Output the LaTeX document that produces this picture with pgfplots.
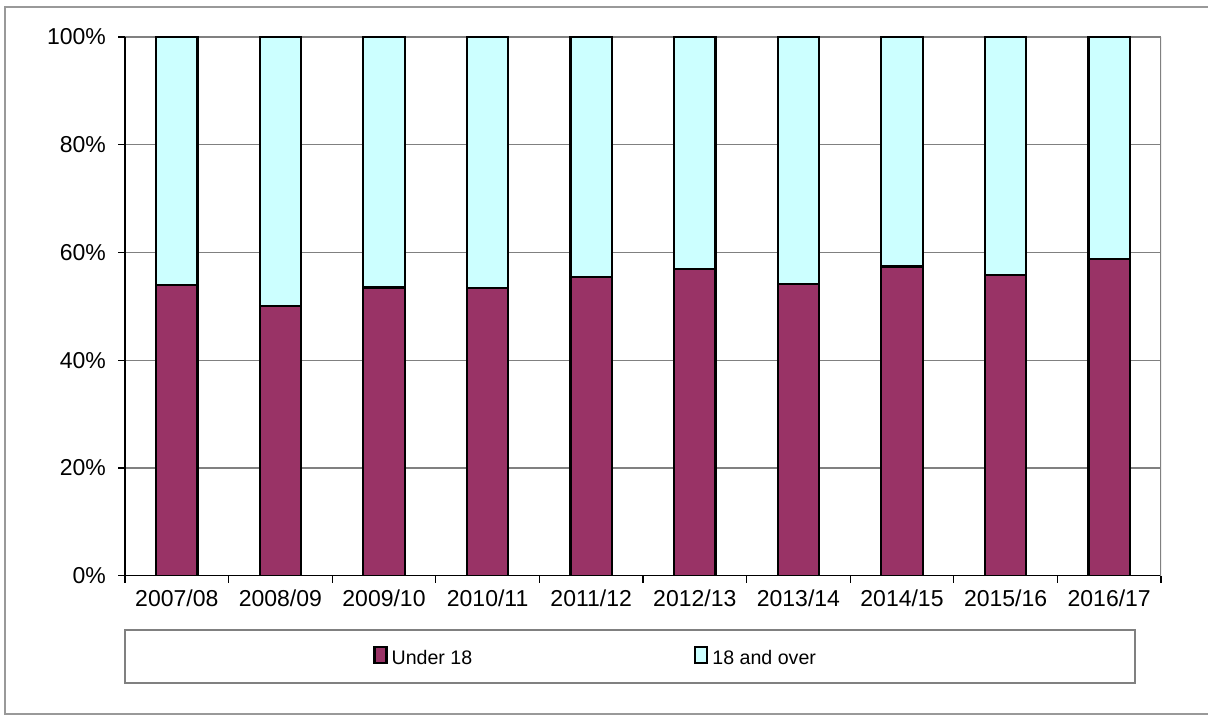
\documentclass[border=0pt]{standalone}
\usepackage{pgfplots}
\pgfplotsset{compat=1.18}
\usepackage{fontspec}
\setmainfont{Liberation Sans}
\definecolor{under}{HTML}{993366}
\definecolor{over}{HTML}{CCFFFF}
\pgfplotsset{
  ybar legend/.style={legend image code/.code={\draw[##1, line width=1pt] (0pt,-2.75pt) rectangle (5.5pt,2.75pt);}},
}
\begin{document}
\begin{tikzpicture}
\useasboundingbox (0pt,0pt) rectangle (604pt,357.5pt);
\draw[gray!80, line width=0.6pt] (2.5pt,0.5pt) rectangle (608pt,354pt);
\draw[gray, line width=0.6pt] (62.5pt,16pt) rectangle (567.5pt,42.5pt);
\begin{axis}[
  at={(62.5pt,69.65pt)}, anchor=south west,
  width=518pt, height=269.35pt, scale only axis,
  ybar stacked, bar width=0.4,
  xmin=-0.5, xmax=9.5, ymin=0, ymax=100,
  xtick={-0.5,0.5,...,9.5}, x tick label as interval,
  xticklabels={2007/08,2008/09,2009/10,2010/11,2011/12,2012/13,2013/14,2014/15,2015/16,2016/17},
  ytick={0,20,...,100},
  yticklabel={\pgfmathprintnumber{\tick}\%},
  /pgf/number format/assume math mode=true,
  ymajorgrids, major grid style={gray, line width=0.6pt},
  axis x line*=bottom, axis y line*=left,
  axis line style={black, line width=0.6pt},
  tick align=outside, major tick length=3.5pt,
  tick style={black, line width=0.6pt},
  tick label style={font=\fontsize{11.5}{13}\selectfont},
  yticklabel style={xshift=-2.5pt},
  legend columns=2,
  legend style={at={(rel axis cs:0.2394,-0.1509)}, anchor=west, draw=none, fill=none,
    inner sep=0pt, nodes={inner sep=0pt, font=\fontsize{9.8}{11}\selectfont},
    /tikz/every odd column/.append style={column sep=2pt},
    /tikz/every even column/.append style={column sep=111pt}},
]
\addplot[fill=under, draw=black, line width=1.1pt] coordinates {(0,53.9) (1,50.1) (2,53.5) (3,53.4) (4,55.5) (5,56.9) (6,54.2) (7,57.4) (8,55.8) (9,58.8)};
\addplot[fill=over, draw=black, line width=1.1pt] coordinates {(0,46.1) (1,49.9) (2,46.5) (3,46.6) (4,44.5) (5,43.1) (6,45.8) (7,42.6) (8,44.2) (9,41.2)};
\legend{Under 18, 18 and over}
\draw[gray, line width=0.6pt] (rel axis cs:1,0) -- (rel axis cs:1,1);
\end{axis}
\end{tikzpicture}
\end{document}
